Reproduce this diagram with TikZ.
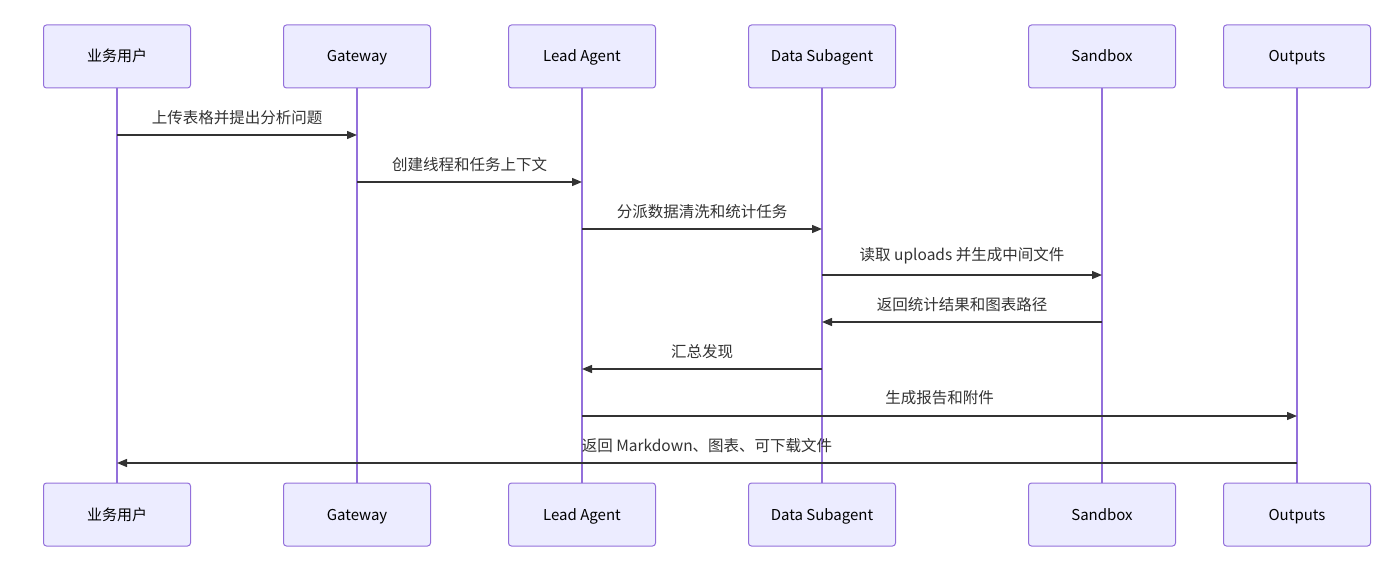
\documentclass[tikz,border=0pt]{standalone}
\usepackage{fontspec}
\setmainfont{Noto Sans CJK SC}
\usetikzlibrary{arrows.meta}
\definecolor{actfill}{HTML}{ECECFF}
\definecolor{actline}{HTML}{9370DB}
\definecolor{msgline}{HTML}{333333}
\begin{document}
\begin{tikzpicture}[x=1pt,y=-1pt,
  actor/.style={draw=actline,fill=actfill,line width=1pt,rounded corners=3pt,
    minimum width=147pt,minimum height=63pt,inner sep=0pt,text height=12pt,text depth=1pt,
    font=\fontsize{15}{18}\selectfont},
  life/.style={draw=actline,line width=1.4pt},
  msg/.style={draw=msgline,line width=1.3pt,-{Triangle[length=10pt,width=8pt]}},
  lbl/.style={font=\fontsize{15.5}{18}\selectfont,text=msgline,inner sep=0pt}]
\useasboundingbox (0,0) rectangle (1400,567);
% actors, top and bottom
\foreach \n/\x/\t in {user/117/业务用户,gw/357/Gateway,lead/582/Lead Agent,
    data/822/Data Subagent,box/1102/Sandbox,out/1297/Outputs}{
  \node[actor] (\n) at (\x,56.5) {\t};
  \node[actor] (\n b) at (\x,514.5) {\t};
  \draw[life] (\n.south) -- (\n b.north);
}
% messages
\draw[msg] (user.south |- 0,135) -- node[lbl,above=10pt] (m1) {上传表格并提出分析问题} (gw.south |- 0,135);
\draw[msg] (gw.south |- 0,182) -- node[lbl,above=10pt] (m2) {创建线程和任务上下文} (lead.south |- 0,182);
\draw[msg] (lead.south |- 0,229) -- node[lbl,above=10pt] (m3) {分派数据清洗和统计任务} (data.south |- 0,229);
\draw[msg] (data.south |- 0,275) -- node[lbl,above=10pt] (m4) {读取 uploads 并生成中间文件} (box.south |- 0,275);
\draw[msg] (box.south |- 0,322) -- node[lbl,above=10pt] (m5) {返回统计结果和图表路径} (data.south |- 0,322);
\draw[msg] (data.south |- 0,369) -- node[lbl,above=10pt] (m6) {汇总发现} (lead.south |- 0,369);
\draw[msg] (lead.south |- 0,416) -- node[lbl,above=10pt] (m7) {生成报告和附件} (out.south |- 0,416);
\draw[msg] (out.south |- 0,463) -- node[lbl,above=10pt] (m8) {返回 Markdown、图表、可下载文件} (user.south |- 0,463);
\end{tikzpicture}
\end{document}
